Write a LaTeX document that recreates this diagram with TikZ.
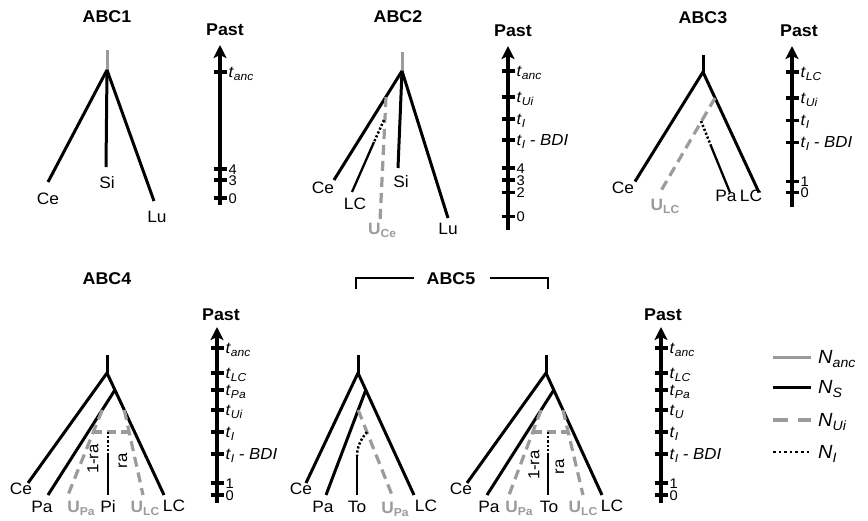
\documentclass[tikz,border=0pt]{standalone}
\usepackage{fontspec}
\setmainfont{Liberation Sans}[FakeStretch=1.05]
\usetikzlibrary{arrows.meta}
\definecolor{lgray}{RGB}{155,155,155}
\newcommand\lsub[1]{\raisebox{-3.4pt}{\fontsize{11.5}{11.5}\selectfont #1}}
\newcommand\tsub[1]{\textit{t}\lsub{\textit{#1}}}
\newcommand\dg[1]{{\fontsize{14}{14}\selectfont #1}}
\newcommand\ulab[1]{\textcolor{lgray}{\bfseries U\lsub{\bfseries #1}}}
\newcommand\nsub[1]{\textit{N}\raisebox{-4pt}{\fontsize{13.5}{13.5}\selectfont\textit{#1}}}
\tikzset{
  br/.style={line width=3pt, black},
  thn/.style={line width=2.3pt, black},
  anc/.style={line width=3pt, lgray},
  ui/.style={line width=3.2pt, lgray, dash pattern=on 10pt off 6pt},
  ni/.style={line width=2.5pt, black, dash pattern=on 2.2pt off 2pt},
  axisl/.style={line width=3.3pt, -{Stealth[length=13pt,width=13pt,inset=3pt]}},
  tickl/.style={line width=3.3pt},
  tlab/.style={anchor=base west, inner sep=0pt, font=\fontsize{16}{16}\selectfont},
  lab/.style={anchor=base, inner sep=0pt, font=\fontsize{16.5}{16.5}\selectfont},
  rlab/.style={inner sep=0pt, rotate=90, font=\fontsize{16}{16}\selectfont},
  ttl/.style={inner sep=0pt, font=\fontsize{17}{17}\selectfont\bfseries},
  leglab/.style={anchor=base west, inner sep=0pt, font=\fontsize{19}{19}\selectfont},
}
\newcommand\tline[5]{%
  \coordinate (#1b) at (#2,#4);
  \coordinate (#1t) at (#2,#3);
  \draw[axisl] (#1b) -- (#1t);
  \foreach \yy/\lab [count=\i] in {#5} {
    \coordinate (#1l\i) at (#2-6.5,\yy);
    \coordinate (#1r\i) at (#2+6.5,\yy);
    \draw[tickl] (#1l\i) -- (#1r\i);
    \node[tlab] (#1n\i) at (#2+8.5,\yy+5) {\lab};
  }
}
\begin{document}
\begin{tikzpicture}[x=1pt,y=-1pt]
\useasboundingbox (0,0) rectangle (868,520);

% ---------- titles ----------
\node[ttl] (ti1) at (107,17) {ABC1};
\node[ttl] (ti2) at (398,17) {ABC2};
\node[ttl] (ti3) at (703,18) {ABC3};
\node[ttl] (ti4) at (107,279) {ABC4};
\node[ttl] (ti5) at (451,279) {ABC5};
\coordinate (bl1) at (356,289); \coordinate (bl2) at (356,278); \coordinate (bl3) at (414,278);
\coordinate (br3) at (490,278); \coordinate (br2) at (548,278); \coordinate (br1) at (548,289);
\draw[line width=1.3pt] (bl1) -- (bl2) -- (bl3);
\draw[line width=1.3pt] (br3) -- (br2) -- (br1);

% ---------- Past labels ----------
\node[ttl] (p1) at (225,30) {Past};
\node[ttl] (p2) at (513,31) {Past};
\node[ttl] (p3) at (799,31) {Past};
\node[ttl] (p4) at (221,315) {Past};
\node[ttl] (p5) at (663,315) {Past};

% ---------- timelines ----------
\tline{A}{220}{45}{205}{72/{\tsub{anc}},169/{\dg{4}},180/{\dg{3}},198/{\dg{0}}}
\tline{B}{508}{46}{230}{71/{\tsub{anc}},97/{\tsub{Ui}},119/{\tsub{I}},140/{\tsub{I}\textit{ - BDI}},168/{\dg{4}},180/{\dg{3}},192.5/{\dg{2}},216.5/{\dg{0}}}
\tline{C}{792}{46}{207}{72/{\tsub{LC}},98/{\tsub{Ui}},120.5/{\tsub{I}},142.5/{\tsub{I}\textit{ - BDI}},181.5/{\dg{1}},192.5/{\dg{0}}}
\tline{D}{217}{327}{503}{348/{\tsub{anc}},373/{\tsub{LC}},390/{\tsub{Pa}},410/{\tsub{Ui}},432/{\tsub{I}},454/{\tsub{I}\textit{ - BDI}},483/{\dg{1}},495/{\dg{0}}}
\tline{E}{661}{327}{503}{348/{\tsub{anc}},373/{\tsub{LC}},390/{\tsub{Pa}},410/{\tsub{U}},432/{\tsub{I}},454/{\tsub{I}\textit{ - BDI}},483/{\dg{1}},495/{\dg{0}}}

% ---------- ABC1 tree ----------
\coordinate (a1t) at (107,50);
\coordinate (a1n) at (107,70);
\coordinate (a1ce) at (48,182);
\coordinate (a1si) at (106,167);
\coordinate (a1lu) at (154,201);
\draw[anc] (a1t) -- (a1n);
\draw[br] (a1n) -- (a1ce);
\draw[br] (a1n) -- (a1si);
\draw[br] (a1n) -- (a1lu);
\node[lab] (a1Ce) at (48,204) {Ce};
\node[lab] (a1Si) at (107,188) {Si};
\node[lab] (a1Lu) at (157,222) {Lu};

% ---------- ABC2 tree ----------
\coordinate (a2t) at (402,52);
\coordinate (a2n) at (402,71);
\coordinate (a2ce) at (334,180);
\coordinate (a2si) at (398,168);
\coordinate (a2lu) at (448,218);
\coordinate (a2u1) at (386,97);
\coordinate (a2u2) at (380,221);
\coordinate (a2d1) at (384,120);
\coordinate (a2d2) at (374,142);
\coordinate (a2lc) at (352,192);
\draw[anc] (a2t) -- (a2n);
\draw[br] (a2n) -- (a2ce);
\draw[br] (a2n) -- (a2si);
\draw[br] (a2n) -- (a2lu);
\draw[ui] (a2u1) -- (a2u2);
\draw[ni] (a2d1) -- (a2d2);
\draw[thn] (a2d2) -- (a2lc);
\node[lab] (a2Ce) at (323,193) {Ce};
\node[lab] (a2LC) at (355,209) {LC};
\node[lab] (a2Si) at (401,187) {Si};
\node[lab] (a2U) at (382,234) {\ulab{Ce}};
\node[lab] (a2Lu) at (448,234) {Lu};

% ---------- ABC3 tree ----------
\coordinate (a3t) at (703,55);
\coordinate (a3n) at (703,72);
\coordinate (a3ce) at (635,181.5);
\coordinate (a3lc) at (759,192.5);
\coordinate (a3u1) at (715,98);
\coordinate (a3u2) at (660,192.5);
\coordinate (a3d1) at (701,121);
\coordinate (a3d2) at (711,146);
\coordinate (a3pa) at (730,192.5);
\draw[br] (a3t) -- (a3n);
\draw[br] (a3n) -- (a3ce);
\draw[br] (a3n) -- (a3lc);
\draw[ui] (a3u1) -- (a3u2);
\draw[ni] (a3d1) -- (a3d2);
\draw[thn] (a3d2) -- (a3pa);
\node[lab] (a3Ce) at (623,193) {Ce};
\node[lab] (a3U) at (665,210) {\ulab{LC}};
\node[lab] (a3Pa) at (726,201) {Pa};
\node[lab] (a3LC) at (751,201) {LC};

% ---------- ABC4 tree ----------
\coordinate (a4t) at (107,355);
\coordinate (a4n) at (107,373);
\coordinate (a4ce) at (28,483);
\coordinate (a4lc) at (164,495);
\coordinate (a4m) at (114.9,390);
\coordinate (a4pa) at (48,495);
\coordinate (a4ul1) at (102.2,410);
\coordinate (a4ul2) at (68,495);
\coordinate (a4ur1) at (124.3,410);
\coordinate (a4ur2) at (143,495);
\coordinate (a4h1) at (93.3,432);
\coordinate (a4h2) at (129.1,432);
\coordinate (a4d1) at (108,432);
\coordinate (a4d2) at (108,455);
\coordinate (a4pi) at (108,495);
\draw[br] (a4t) -- (a4n);
\draw[br] (a4n) -- (a4ce);
\draw[br] (a4n) -- (a4lc);
\draw[br] (a4m) -- (a4pa);
\draw[ui] (a4ul1) -- (a4ul2);
\draw[ui] (a4ur1) -- (a4ur2);
\draw[ui, dash pattern=on 9pt off 5pt] (a4h1) -- (a4h2);
\draw[ni] (a4d1) -- (a4d2);
\draw[thn] (a4d2) -- (a4pi);
\node[rlab] (a4r1) at (93,459) {1-ra};
\node[rlab] (a4r2) at (123,461) {ra};
\node[lab] (a4Ce) at (21,494) {Ce};
\node[lab] (a4Pa) at (42,512) {Pa};
\node[lab] (a4Up) at (81,512) {\ulab{Pa}};
\node[lab] (a4Pi) at (108,512) {Pi};
\node[lab] (a4Ul) at (145,512) {\ulab{LC}};
\node[lab] (a4LC) at (174,511) {LC};

% ---------- ABC5 left tree ----------
\coordinate (b1t) at (358,355);
\coordinate (b1n) at (358,373);
\coordinate (b1ce) at (306,483);
\coordinate (b1lc) at (414,495);
\coordinate (b1m) at (365.8,390);
\coordinate (b1pa) at (326,495);
\coordinate (b1u1) at (358.2,410);
\coordinate (b1u2) at (392,495);
\coordinate (b1d1) at (367,432);
\coordinate (b1d2) at (357,456);
\coordinate (b1to) at (357,495);
\draw[br] (b1t) -- (b1n);
\draw[br] (b1n) -- (b1ce);
\draw[br] (b1n) -- (b1lc);
\draw[br] (b1m) -- (b1pa);
\draw[ui] (b1u1) -- (b1u2);
\draw[ni] (b1d1) .. controls (360,440) and (357,448) .. (b1d2);
\draw[thn] (b1d2) -- (b1to);
\node[lab] (b1Ce) at (301,494) {Ce};
\node[lab] (b1Pa) at (323,512) {Pa};
\node[lab] (b1To) at (357,512) {To};
\node[lab] (b1Up) at (395,513) {\ulab{Pa}};
\node[lab] (b1LC) at (426,511) {LC};

% ---------- ABC5 right tree ----------
\coordinate (b2t) at (546,355);
\coordinate (b2n) at (546,373);
\coordinate (b2ce) at (467,483);
\coordinate (b2lc) at (602,495);
\coordinate (b2m) at (553.8,390);
\coordinate (b2pa) at (487,495);
\coordinate (b2ul1) at (541.1,410);
\coordinate (b2ul2) at (509,495);
\coordinate (b2ur1) at (563,410);
\coordinate (b2ur2) at (583,495);
\coordinate (b2h1) at (532.8,432);
\coordinate (b2h2) at (568.2,432);
\coordinate (b2d1) at (548,432);
\coordinate (b2d2) at (548,455);
\coordinate (b2to) at (548,495);
\draw[br] (b2t) -- (b2n);
\draw[br] (b2n) -- (b2ce);
\draw[br] (b2n) -- (b2lc);
\draw[br] (b2m) -- (b2pa);
\draw[ui] (b2ul1) -- (b2ul2);
\draw[ui] (b2ur1) -- (b2ur2);
\draw[ui, dash pattern=on 9pt off 5pt] (b2h1) -- (b2h2);
\draw[ni] (b2d1) -- (b2d2);
\draw[thn] (b2d2) -- (b2to);
\node[rlab] (b2r1) at (534,465) {1-ra};
\node[rlab] (b2r2) at (560,467) {ra};
\node[lab] (b2Ce) at (461,494) {Ce};
\node[lab] (b2Pa) at (489,512) {Pa};
\node[lab] (b2Up) at (519,512) {\ulab{Pa}};
\node[lab] (b2To) at (549,512) {To};
\node[lab] (b2Ul) at (583,512) {\ulab{LC}};
\node[lab] (b2LC) at (612,511) {LC};

% ---------- legend ----------
\coordinate (g1a) at (773,357); \coordinate (g1b) at (811,357);
\coordinate (g2a) at (773,387); \coordinate (g2b) at (811,387);
\coordinate (g3a) at (773,420); \coordinate (g3b) at (811,420);
\coordinate (g4a) at (773,452); \coordinate (g4b) at (811,452);
\draw[anc] (g1a) -- (g1b);
\draw[br] (g2a) -- (g2b);
\draw[ui, dash pattern=on 15pt off 10pt] (g3a) -- (g3b);
\draw[ni, line width=2.6pt, dash pattern=on 2.6pt off 3pt] (g4a) -- (g4b);
\node[leglab] (g1) at (818,363.5) {\nsub{anc}};
\node[leglab] (g2) at (818,393.5) {\nsub{S}};
\node[leglab] (g3) at (818,426.5) {\nsub{Ui}};
\node[leglab] (g4) at (818,458.5) {\nsub{I}};
\end{tikzpicture}
\end{document}
